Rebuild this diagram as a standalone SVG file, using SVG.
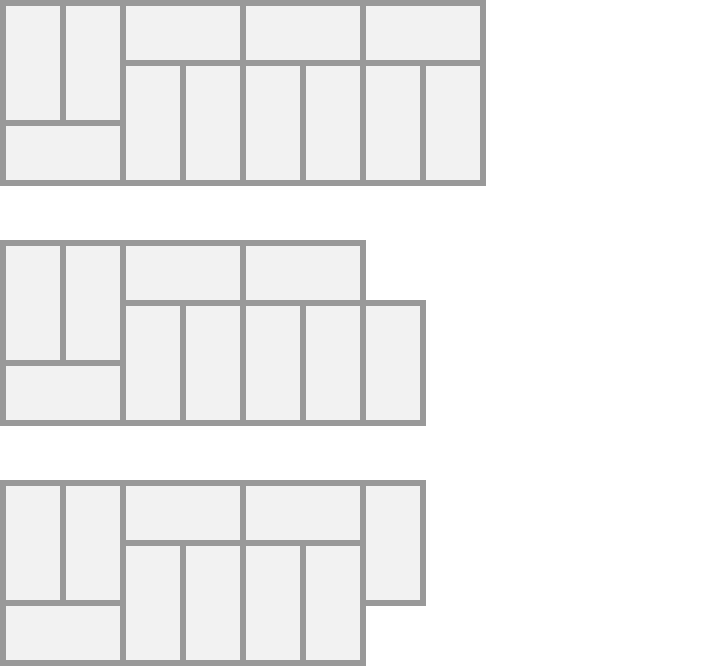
<svg xmlns="http://www.w3.org/2000/svg" width="726" height="666" viewBox="0 0 726 666">
<style>
rect{fill:#f2f2f2;stroke:#999999;stroke-width:6}
</style>
<rect width="726" height="666" style="fill:#ffffff;stroke:none"/>
<g id="row1">
<rect x="3" y="3" width="60" height="120"/>
<rect x="63" y="3" width="60" height="120"/>
<rect x="3" y="123" width="120" height="60"/>
<rect x="123" y="3" width="120" height="60"/>
<rect x="243" y="3" width="120" height="60"/>
<rect x="363" y="3" width="120" height="60"/>
<rect x="123" y="63" width="60" height="120"/>
<rect x="183" y="63" width="60" height="120"/>
<rect x="243" y="63" width="60" height="120"/>
<rect x="303" y="63" width="60" height="120"/>
<rect x="363" y="63" width="60" height="120"/>
<rect x="423" y="63" width="60" height="120"/>
</g>
<g id="row2">
<rect x="3" y="243" width="60" height="120"/>
<rect x="63" y="243" width="60" height="120"/>
<rect x="3" y="363" width="120" height="60"/>
<rect x="123" y="243" width="120" height="60"/>
<rect x="243" y="243" width="120" height="60"/>
<rect x="123" y="303" width="60" height="120"/>
<rect x="183" y="303" width="60" height="120"/>
<rect x="243" y="303" width="60" height="120"/>
<rect x="303" y="303" width="60" height="120"/>
<rect x="363" y="303" width="60" height="120"/>
</g>
<g id="row3">
<rect x="3" y="483" width="60" height="120"/>
<rect x="63" y="483" width="60" height="120"/>
<rect x="3" y="603" width="120" height="60"/>
<rect x="123" y="483" width="120" height="60"/>
<rect x="243" y="483" width="120" height="60"/>
<rect x="123" y="543" width="60" height="120"/>
<rect x="183" y="543" width="60" height="120"/>
<rect x="243" y="543" width="60" height="120"/>
<rect x="303" y="543" width="60" height="120"/>
<rect x="363" y="483" width="60" height="120"/>
</g>
</svg>
